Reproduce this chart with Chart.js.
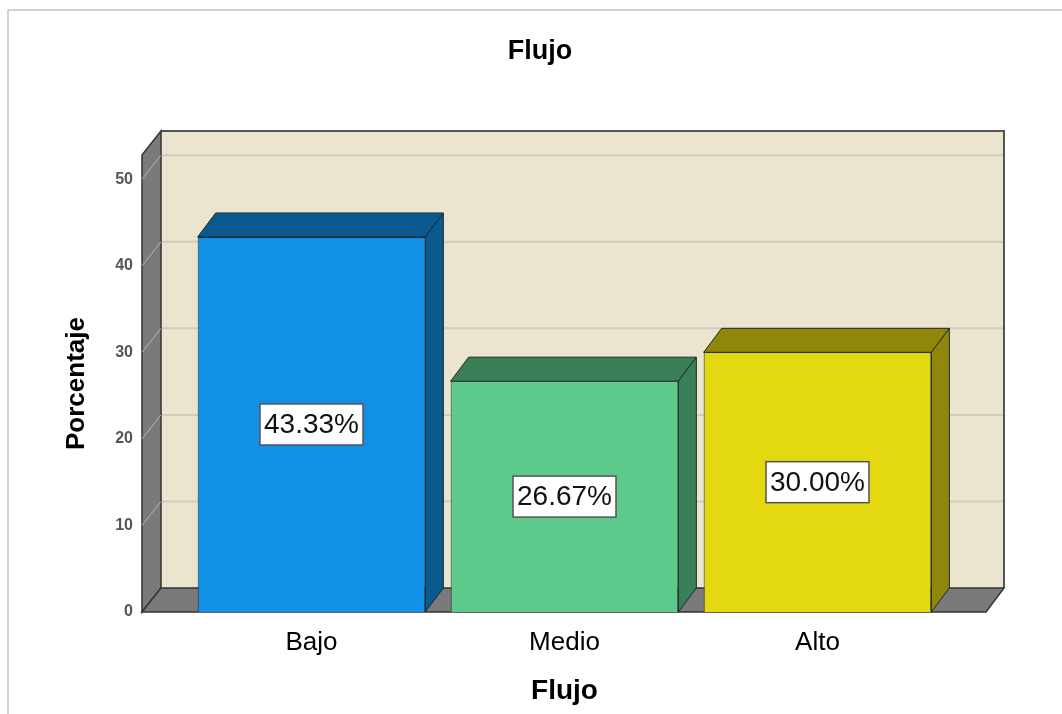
<!DOCTYPE html>
<html>
<head>
<meta charset="utf-8">
<script src="https://cdn.jsdelivr.net/npm/chart.js@4.4.1/dist/chart.umd.min.js"></script>
<style>
  body { margin: 0; background: #fff; }
  #wrap { width: 1062px; height: 714px; }
</style>
</head>
<body>
<div id="wrap"><canvas id="myChart" width="1062" height="714"></canvas></div>
<script>
// Datos: porcentaje por nivel de flujo
var categorias = ["Bajo", "Medio", "Alto"];
var porcentajes = [43.33, 26.67, 30.00];
var ticksY = [0, 10, 20, 30, 40, 50];

// Colores de cada barra (cara frontal y caras laterales)
var coloresFrente = ["#1290e6", "#5dca8b", "#e4d910"];
var coloresLado = ["#0b5a8f", "#3a7f58", "#8f860a"];

// profundidad del efecto 3D
var DX = 19, DY = -24, BDX = 18;
var EXT_IZQ = 43, EXT_DER = 42;

function poligono(ctx, pts, fill, stroke, lw) {
    ctx.beginPath();
    ctx.moveTo(pts[0][0], pts[0][1]);
    for (var i = 1; i < pts.length; i++) ctx.lineTo(pts[i][0], pts[i][1]);
    ctx.closePath();
    ctx.fillStyle = fill;
    ctx.fill();
    if (stroke) {
        ctx.strokeStyle = stroke;
        ctx.lineWidth = lw || 1;
        ctx.stroke();
    }
}

// Paredes, piso y lineas de la cuadricula
var fondo3D = {
    id: "fondo3D",
    beforeDraw: function(chart) {
        var ctx = chart.ctx;
        ctx.save();
        ctx.strokeStyle = "#c4c4c4";
        ctx.lineWidth = 1.5;
        ctx.beginPath();
        ctx.moveTo(8, 714);
        ctx.lineTo(8, 10);
        ctx.lineTo(1062, 10);
        ctx.stroke();
        ctx.restore();
    },
    beforeDatasetsDraw: function(chart) {
        var ctx = chart.ctx;
        var a = chart.chartArea;
        var y = chart.scales.y;
        var xl = a.left - EXT_IZQ, xr = a.right + EXT_DER;
        ctx.save();
        // pared del fondo
        ctx.fillStyle = "#ebe5d0";
        ctx.fillRect(xl + DX, a.top + DY, xr + BDX - xl - DX, a.bottom - a.top);
        // lineas de la cuadricula
        ctx.strokeStyle = "#d0cbbd";
        ctx.lineWidth = 2;
        ticksY.forEach(function(v) {
            if (v === 0) return;
            var py = y.getPixelForValue(v) + DY;
            ctx.beginPath();
            ctx.moveTo(xl + DX, py);
            ctx.lineTo(xr + BDX, py);
            ctx.stroke();
        });
        // borde superior y derecho de la pared
        ctx.strokeStyle = "#555";
        ctx.lineWidth = 2;
        ctx.beginPath();
        ctx.moveTo(xl + DX, a.top + DY);
        ctx.lineTo(xr + BDX, a.top + DY);
        ctx.lineTo(xr + BDX, a.bottom + DY);
        ctx.stroke();
        // pared izquierda
        poligono(ctx, [[xl, a.bottom], [xl, a.top], [xl + DX, a.top + DY], [xl + DX, a.bottom + DY]], "#7a7a7a", "#333", 1.5);
        // piso
        poligono(ctx, [[xl, a.bottom], [xl + DX, a.bottom + DY], [xr + BDX, a.bottom + DY], [xr, a.bottom]], "#7a7a7a", "#333", 1.5);
        // marcas diagonales del eje
        ctx.strokeStyle = "#b5b5b5";
        ctx.lineWidth = 1;
        ticksY.forEach(function(v) {
            if (v === 0) return;
            var py = y.getPixelForValue(v);
            ctx.beginPath();
            ctx.moveTo(xl, py);
            ctx.lineTo(xl + DX, py + DY);
            ctx.stroke();
        });
        ctx.restore();
    },
    afterDatasetsDraw: function(chart) {
        var ctx = chart.ctx;
        var meta = chart.getDatasetMeta(0);
        ctx.save();
        meta.data.forEach(function(bar, i) {
            var p = bar.getProps(["x", "y", "base", "width"], true);
            var l = p.x - p.width / 2, r = p.x + p.width / 2;
            // cara superior
            poligono(ctx, [[l, p.y], [l + BDX, p.y + DY], [r + BDX, p.y + DY], [r, p.y]], coloresLado[i], "#1e2a30", 1);
            // cara lateral
            poligono(ctx, [[r, p.y], [r + BDX, p.y + DY], [r + BDX, p.base + DY], [r, p.base]], coloresLado[i], "#1e2a30", 1);
            // etiqueta del valor
            var txt = porcentajes[i].toFixed(2) + "%";
            ctx.font = "28px 'Liberation Sans', Arial, sans-serif";
            var w = ctx.measureText(txt).width + 8;
            var h = 41;
            var cy = (p.y + p.base) / 2;
            ctx.fillStyle = "#fff";
            ctx.fillRect(p.x - w / 2, cy - h / 2, w, h);
            ctx.strokeStyle = "#555";
            ctx.lineWidth = 1.5;
            ctx.strokeRect(p.x - w / 2, cy - h / 2, w, h);
            ctx.fillStyle = "#111";
            ctx.textAlign = "center";
            ctx.textBaseline = "middle";
            ctx.fillText(txt, p.x, cy + 1);
        });
        ctx.restore();
    }
};

var ctx = document.getElementById("myChart").getContext("2d");
var myChart = new Chart(ctx, {
    type: "bar",
    data: {
        labels: categorias,
        datasets: [{
            label: "Porcentaje",
            data: porcentajes,
            backgroundColor: coloresFrente,
            borderColor: "#1e2a30",
            borderWidth: 1,
            barPercentage: 0.9,
            categoryPercentage: 1.0
        }]
    },
    options: {
        responsive: false,
        animation: false,
        devicePixelRatio: 1,
        layout: { padding: { left: 18, right: 0, top: 0, bottom: 0 } },
        plugins: {
            legend: { display: false },
            tooltip: { enabled: false },
            title: {
                display: true,
                text: "Flujo",
                color: "#000",
                font: { family: "'Liberation Sans', Arial, sans-serif", size: 27, weight: "bold" },
                padding: { top: 35, bottom: 87.6 }
            }
        },
        scales: {
            x: {
                grid: { display: false },
                border: { display: false },
                ticks: {
                    color: "#000",
                    padding: 7,
                    font: { family: "'Liberation Sans', Arial, sans-serif", size: 26 }
                },
                title: {
                    display: true,
                    text: "Flujo",
                    color: "#000",
                    font: { family: "'Liberation Sans', Arial, sans-serif", size: 28, weight: "bold" },
                    padding: { top: 0, bottom: 6 }
                },
                afterFit: function(s) { s.height = 102; }
            },
            y: {
                min: 0,
                max: 52.8,
                grid: { display: false, drawTicks: false },
                border: { display: false },
                ticks: {
                    color: "#555",
                    padding: 52,
                    font: { family: "'Liberation Sans', Arial, sans-serif", size: 16, weight: "bold" }
                },
                afterBuildTicks: function(s) {
                    s.ticks = ticksY.map(function(v) { return { value: v }; });
                },
                title: {
                    display: true,
                    text: "Porcentaje",
                    color: "#000",
                    font: { family: "'Liberation Sans', Arial, sans-serif", size: 26, weight: "bold" },
                    padding: { top: 43, bottom: 0 }
                },
                afterFit: function(s) { s.width = 167; }
            },
            y2: {
                position: "right",
                grid: { display: false, drawTicks: false },
                border: { display: false },
                ticks: { display: false },
                afterFit: function(s) { s.width = 118; }
            }
        }
    },
    plugins: [fondo3D]
});
</script>
</body>
</html>
